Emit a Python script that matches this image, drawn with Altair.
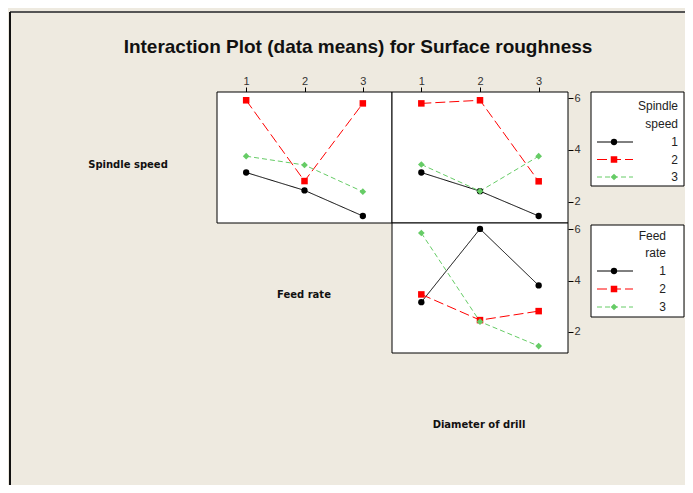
import altair as alt
import pandas as pd

# ---------------- data ----------------
LEVELS = ["1", "2", "3"]
X_LEVELS = [1, 2, 3]
Y_TICKS = [2, 4, 6]

# Spindle speed traces vs Feed rate (top-left panel)
TL_S1 = [3.13, 2.44, 1.45]
TL_S2 = [5.92, 2.80, 5.80]
TL_S3 = [3.76, 3.42, 2.39]
# Spindle speed traces vs Diameter of drill (top-right panel)
TR_S1 = [3.13, 2.41, 1.45]
TR_S2 = [5.80, 5.92, 2.79]
TR_S3 = [3.44, 2.41, 3.76]
# Feed rate traces vs Diameter of drill (bottom-right panel)
BR_F1 = [3.16, 6.01, 3.81]
BR_F2 = [3.46, 2.46, 2.81]
BR_F3 = [5.85, 2.40, 1.45]

TITLE = "Interaction Plot (data means) for Surface roughness"
LABEL_SPINDLE = "Spindle speed"
LABEL_FEED = "Feed rate"
LABEL_DIAM = "Diameter of drill"
LEGEND1_TITLE = ["Spindle", "speed"]
LEGEND2_TITLE = ["Feed", "rate"]

# ---------------- styling ----------------
BG = "#EEEAE0"
COLORS = ["#000000", "#FF0000", "#66CC66"]
SHAPES = ["circle", "square", "diamond"]
DASHES = [[1, 0], [10, 4], [5, 3]]
SIZES = [40, 45, 60]
LEG_SIZES = [50, 50, 70]
X_DOMAIN = [0.5, 3.5]
Y_DOMAIN = [1.18, 6.24]
W, H = 675, 473

color_scale = alt.Scale(domain=LEVELS, range=COLORS)
shape_scale = alt.Scale(domain=LEVELS, range=SHAPES)
dash_scale = alt.Scale(domain=LEVELS, range=DASHES)


def long_df(series):
    rows = []
    for g, vals in zip(LEVELS, series):
        for x, v in zip(X_LEVELS, vals):
            rows.append({"x": x, "y": v, "g": g})
    return pd.DataFrame(rows)


def panel(series, xr, yr, top_axis, right_axis):
    xs = alt.Scale(domain=X_DOMAIN, range=xr, nice=False, zero=False)
    ys = alt.Scale(domain=Y_DOMAIN, range=yr, nice=False, zero=False)
    common = dict(domain=False, grid=False, title=None, tickColor="#000",
                  tickSize=5, labelFont="Liberation Sans", labelFontSize=11,
                  labelColor="#333", labelPadding=1, labelFlush=False)
    if top_axis:
        xaxis = alt.Axis(orient="top", values=X_LEVELS, offset=-yr[1],
                         labelAngle=0, **common)
    else:
        xaxis = None
    if right_axis:
        yaxis = alt.Axis(orient="right", values=Y_TICKS, offset=-(W - xr[1]),
                         **common)
    else:
        yaxis = None
    df = long_df(series)
    frame_df = pd.DataFrame({"x": [X_DOMAIN[0]], "x2": [X_DOMAIN[1]],
                             "y": [Y_DOMAIN[0]], "y2": [Y_DOMAIN[1]]})
    frame = alt.Chart(frame_df).mark_rect(fill="white", stroke="black",
                                          strokeWidth=1).encode(
        x=alt.X("x:Q", scale=xs, axis=xaxis), x2="x2:Q",
        y=alt.Y("y:Q", scale=ys, axis=yaxis), y2="y2:Q")
    lines = alt.Chart(df).mark_line(strokeWidth=1).encode(
        x=alt.X("x:Q", scale=xs, axis=xaxis),
        y=alt.Y("y:Q", scale=ys, axis=yaxis),
        detail="g:N",
        color=alt.Color("g:N", scale=color_scale, legend=None),
        strokeDash=alt.StrokeDash("g:N", scale=dash_scale, legend=None))
    pts = alt.Chart(df).mark_point(filled=True, opacity=1).encode(
        x=alt.X("x:Q", scale=xs, axis=xaxis),
        y=alt.Y("y:Q", scale=ys, axis=yaxis),
        color=alt.Color("g:N", scale=color_scale, legend=None),
        shape=alt.Shape("g:N", scale=shape_scale, legend=None),
        size=alt.Size("g:O", scale=alt.Scale(domain=LEVELS, range=SIZES), legend=None))
    return alt.layer(frame, lines, pts)


def legend(title_lines, box, rows_range, text_right, title_ys):
    df = pd.DataFrame({"g": LEVELS, "r": [1, 2, 3]})
    ys = alt.Scale(domain=[1, 3], range=rows_range, nice=False, zero=False)
    y = alt.Y("r:Q", scale=ys, axis=None)
    frame = alt.Chart(df.head(1)).mark_rect(fill="white", stroke="black",
                                            strokeWidth=1).encode(
        x=alt.value(box[0]), x2=alt.value(box[1]),
        y=alt.value(box[2]), y2=alt.value(box[3]))
    rules = alt.Chart(df).mark_rule(strokeWidth=1).encode(
        x=alt.value(587), x2=alt.value(623), y=y,
        color=alt.Color("g:N", scale=color_scale, legend=None),
        strokeDash=alt.StrokeDash("g:N", scale=dash_scale, legend=None))
    pts = alt.Chart(df).mark_point(filled=True, opacity=1).encode(
        x=alt.value(604), y=y,
        color=alt.Color("g:N", scale=color_scale, legend=None),
        shape=alt.Shape("g:N", scale=shape_scale, legend=None),
        size=alt.Size("g:O", scale=alt.Scale(domain=LEVELS, range=LEG_SIZES), legend=None))
    nums = alt.Chart(df).mark_text(align="right", baseline="middle",
                                   font="Liberation Sans", fontSize=12,
                                   color="#222").encode(
        x=alt.value(text_right), y=y, text="g:N")
    layers = [frame, rules, pts, nums]
    for line, ty in zip(title_lines, title_ys):
        layers.append(
            alt.Chart(pd.DataFrame({"t": [line]})).mark_text(
                align="right", baseline="middle", font="Liberation Sans",
                fontSize=12, color="#222").encode(
                x=alt.value(text_right), y=alt.value(ty), text="t:N"))
    return alt.layer(*layers)


def label(text, x, y, size=10, bold=True, font="DejaVu Sans"):
    return alt.Chart(pd.DataFrame({"t": [text]})).mark_text(
        align="center", baseline="middle", font=font, fontSize=size,
        fontWeight="bold" if bold else "normal", color="#111").encode(
        x=alt.value(x), y=alt.value(y), text="t:N")


border_df = pd.DataFrame({"a": [0]})
top_border = alt.Chart(border_df).mark_rule(color="#555", strokeWidth=2).encode(
    x=alt.value(0), x2=alt.value(W), y=alt.value(0))
left_border = alt.Chart(border_df).mark_rule(color="#111", strokeWidth=2).encode(
    x=alt.value(0), y=alt.value(0), y2=alt.value(H))

tl = panel([TL_S1, TL_S2, TL_S3], [207, 382], [211, 80], True, False)
tr = panel([TR_S1, TR_S2, TR_S3], [382, 558], [211, 80], True, True)
br = panel([BR_F1, BR_F2, BR_F3], [382, 558], [341, 211], False, True)

leg1 = legend(LEGEND1_TITLE, [581, 674, 80, 174], [130, 165], 668, [94, 112])
leg2 = legend(LEGEND2_TITLE, [581, 674, 213, 305], [259, 295], 656, [224, 241])

texts = [
    label(TITLE, 348, 35, size=19, font="Liberation Sans"),
    label(LABEL_SPINDLE, 118, 153),
    label(LABEL_FEED, 294, 283),
    label(LABEL_DIAM, 469, 413),
]

chart = alt.layer(top_border, left_border, tl, tr, br, leg1, leg2, *texts).resolve_scale(
    x="independent", y="independent"
).properties(
    width=W, height=H,
    autosize=alt.AutoSizeParams(type="none"),
    padding={"left": 2, "top": 4, "right": 0, "bottom": 0},
    background=BG,
).configure_view(
    fill=BG, strokeWidth=0
)

chart.save("out.html", embed_options={"renderer": "svg", "actions": False})
